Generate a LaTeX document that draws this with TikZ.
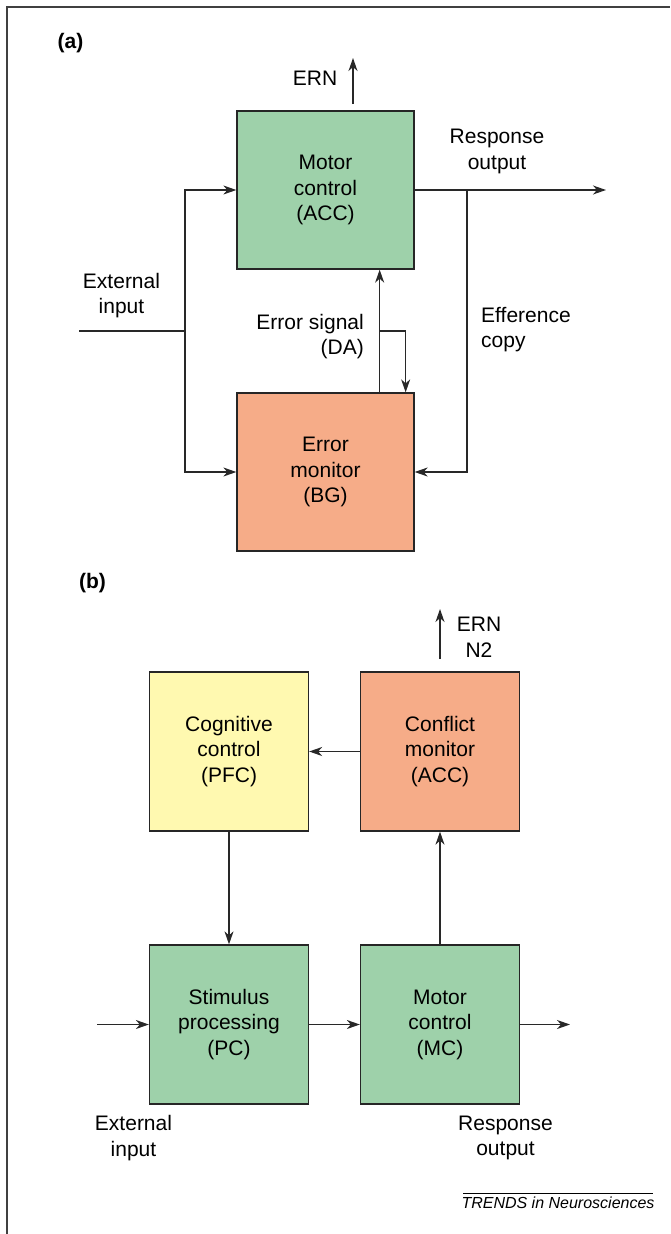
\documentclass[tikz,border=0pt]{standalone}
\usepackage{fontspec}
\setmainfont{Liberation Sans}
\usetikzlibrary{arrows.meta,calc}
\definecolor{boxgreen}{RGB}{158,209,170}
\definecolor{boxorange}{RGB}{246,172,136}
\definecolor{boxyellow}{RGB}{255,249,176}
\definecolor{wire}{RGB}{40,40,40}
\newcommand{\lblfont}{\fontsize{21}{25.5}\selectfont}

\begin{document}
\begin{tikzpicture}[x=1pt,y=-1pt,
	box/.style={draw=black!85, line width=1.3pt, minimum width=177pt, minimum height=158pt, inner sep=0pt, align=center, font=\lblfont},
	sqbox/.style={box, minimum width=159pt, minimum height=159pt},
	lab/.style={inner sep=0pt, align=center, font=\lblfont},
	wireline/.style={draw=wire, line width=1.3pt},
	arr/.style={wireline, -{Stealth[length=13pt,width=9pt,inset=4pt]}},
	frameline/.style={draw=black!75, line width=1.3pt}]
				\useasboundingbox (0,0) rectangle (670,1234);
				\draw[frameline] (6,7) -- (670,7);
				\draw[frameline] (7,7) -- (7,1234);
				
				\node[lab, font=\bfseries\lblfont] (tagA) at (70.5,43) {(a)};
				\node[box, fill=boxgreen] (motorA) at (325.5,190) {Motor\\control\\(ACC)};
				\node[box, fill=boxorange] (errorA) at (325.5,472) {Error\\monitor\\(BG)};
				
				\coordinate (ernbaseA) at (353,104);
				\coordinate (ernA) at (353,58);
				\draw[arr] (ernbaseA) -- (ernA);
				\node[lab] (ernLabA) at (315,78) {ERN};
				
				\coordinate (outA) at (606,190);
				\coordinate (copyA) at (467,190);
				\draw[arr] (motorA.east) -- (outA);
				\draw[arr] (copyA) |- (errorA.east);
				
				\coordinate (inA) at (79,331);
				\coordinate (splitA) at (185,331);
				\draw[wireline] (inA) -- (splitA);
				\draw[arr] (splitA) |- (motorA.west);
				\draw[arr] (splitA) |- (errorA.west);
				
				\draw[arr] ([xshift=-35pt]errorA.north east) -- ([xshift=-35pt]motorA.south east);
				\coordinate (sigA) at (379,331);
				\draw[arr] (sigA) -| ([xshift=-9pt]errorA.north east);
				
				\node[lab] (respA) at (497,151.5) {Response\\output};
				\node[lab] (extA) at (121.5,295.5) {External\\input};
				\node[lab, anchor=east, align=right] (sigLabA) at (364,336.5) {Error signal\\(DA)};
				\node[lab, anchor=west, align=left] (copyLabA) at (481,329.5) {Efference\\copy};
				
				\node[lab, font=\bfseries\lblfont] (tagB) at (92.5,583) {(b)};
				\node[sqbox, fill=boxyellow] (cogB) at (229,751.5) {Cognitive\\control\\(PFC)};
				\node[sqbox, fill=boxorange] (confB) at (440,751.5) {Conflict\\monitor\\(ACC)};
				\node[sqbox, fill=boxgreen] (stimB) at (229,1024.5) {Stimulus\\processing\\(PC)};
				\node[sqbox, fill=boxgreen] (motorB) at (440,1024.5) {Motor\\control\\(MC)};
				
				\draw[arr] (confB) -- (cogB);
				\draw[arr] (cogB) -- (stimB);
				\draw[arr] (motorB) -- (confB);
				\draw[arr] (stimB) -- (motorB);
				
				\coordinate (inB) at (97,1024.5);
				\coordinate (outB) at (570,1024.5);
				\draw[arr] (inB) -- (stimB);
				\draw[arr] (motorB) -- (outB);
				
				\coordinate (ernbaseB) at (440,659);
				\coordinate (ernB) at (440,609);
				\draw[arr] (ernbaseB) -- (ernB);
				\node[lab] (ernLabB) at (479,637.5) {ERN\\N2};
				
				\node[lab] (extB) at (133.5,1138) {External\\input};
				\node[lab] (respB) at (505.5,1138) {Response\\output};
				
				\coordinate (ruleL) at (463,1193);
				\coordinate (ruleR) at (653,1193);
				\draw[line width=0.9pt] (ruleL) -- (ruleR);
				\node[inner sep=0pt, anchor=north, font=\fontsize{16}{19}\selectfont\itshape] (trends) at (558,1197) {TRENDS in Neurosciences};
			\end{tikzpicture}
\end{document}
